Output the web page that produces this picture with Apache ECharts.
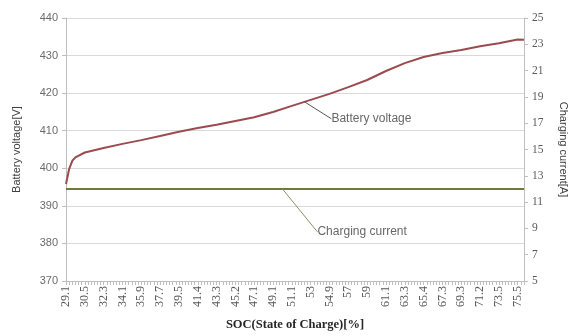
<!DOCTYPE html>
<html>
<head>
<meta charset="utf-8">
<script src="https://cdn.jsdelivr.net/npm/echarts@6/dist/echarts.min.js"></script>
<style>html,body{margin:0;padding:0;background:#fff}#c{width:570px;height:336px}</style>
</head>
<body>
<div id="c"></div>
<script>
// Tick labels shown on the SOC axis (one every 6 categories)
var socLabels = ['29.1','30.5','32.3','34.1','35.9','37.7','39.5','41.4','43.3','45.2','47.1','49.1','51.1','53','54.9','57','59','61.1','63.3','65.4','67.3','69.3','71.2','73.5','75.5'];
var stepsPerLabel = 6;
var extraAfterLast = 2;
// Battery voltage [category index, V]
var voltage = [[0,395.8],[1,399.8],[2,402.0],[3,402.9],[6,404.2],[12,405.4],[18,406.5],[24,407.5],[30,408.6],[36,409.7],[42,410.7],[48,411.6],[54,412.6],[60,413.6],[66,415.0],[72,416.6],[78,418.2],[84,419.8],[90,421.6],[96,423.5],[102,425.9],[108,428.0],[114,429.6],[120,430.7],[126,431.5],[132,432.5],[138,433.3],[144,434.3],[146,434.2]];
// Charging current [A], constant
var currentValue = 12;
// Annotation anchors [category index, value]
var voltageNote = [76, 417.7];
var currentNote = [69, 12];

var nCat = (socLabels.length - 1) * stepsPerLabel + 1 + extraAfterLast;
var categories = [];
for (var i = 0; i < nCat; i++) {
  categories.push(i % stepsPerLabel === 0 && i / stepsPerLabel < socLabels.length ? socLabels[i / stepsPerLabel] : '');
}
var currentData = [[0, currentValue], [nCat - 1, currentValue]];

var chart = echarts.init(document.getElementById('c'));
chart.setOption({
  animation: false,
  grid: {left: 66, right: 46, top: 18, bottom: 55, containLabel: false, outerBoundsMode: 'none'},
  xAxis: {
    type: 'category', data: categories, boundaryGap: false,
    name: 'SOC(State of Charge)[%]', nameLocation: 'middle', nameGap: 37,
    nameTextStyle: {fontFamily: 'Liberation Serif', fontWeight: 'bold', fontSize: 12.5, color: '#262626'},
    axisLine: {lineStyle: {color: '#bfbfbf'}},
    axisTick: {show: true, interval: 0, length: 4, lineStyle: {color: '#bfbfbf'}},
    axisLabel: {interval: stepsPerLabel - 1, rotate: 90, fontFamily: 'Liberation Serif', fontSize: 12, color: '#595959', margin: 5},
    splitLine: {show: false}
  },
  yAxis: [{
    type: 'value', min: 370, max: 440, interval: 10,
    name: 'Battery voltage[V]', nameLocation: 'middle', nameGap: 44,
    nameTextStyle: {fontFamily: 'Liberation Sans', fontSize: 11, color: '#404040'},
    axisLine: {show: true, lineStyle: {color: '#bfbfbf'}},
    axisTick: {show: true, length: 4, lineStyle: {color: '#bfbfbf'}},
    axisLabel: {fontFamily: 'Liberation Sans', fontSize: 11, color: '#6b6b6b', margin: 8},
    splitLine: {lineStyle: {color: '#d9d9d9'}}
  }, {
    type: 'value', min: 5, max: 25, interval: 2, position: 'right',
    name: 'Charging current[A]', nameLocation: 'middle', nameGap: 34, nameRotate: -90,
    nameTextStyle: {fontFamily: 'Liberation Sans', fontSize: 11, color: '#404040'},
    axisLine: {show: true, lineStyle: {color: '#bfbfbf'}},
    axisTick: {show: true, length: 4, lineStyle: {color: '#bfbfbf'}},
    axisLabel: {fontFamily: 'Liberation Serif', fontSize: 11.5, color: '#595959', margin: 8},
    splitLine: {show: false}
  }],
  series: [{
    type: 'line', yAxisIndex: 0, data: voltage, showSymbol: false,
    lineStyle: {color: '#9b4b4f', width: 2}, z: 3
  }, {
    type: 'line', yAxisIndex: 1, data: currentData, showSymbol: false,
    lineStyle: {color: '#6f7a35', width: 2}, z: 2
  }, {
    type: 'scatter', yAxisIndex: 0, data: [voltageNote], symbolSize: 0,
    label: {show: true, formatter: 'Battery voltage', position: 'right', fontFamily: 'Liberation Sans', fontSize: 12, color: '#404040'},
    labelLayout: {dx: 22, dy: 17},
    labelLine: {show: true, lineStyle: {color: '#5e5050', width: 1}}, z: 4
  }, {
    type: 'scatter', yAxisIndex: 1, data: [currentNote], symbolSize: 0,
    label: {show: true, formatter: 'Charging current', position: 'right', fontFamily: 'Liberation Sans', fontSize: 12, color: '#404040'},
    labelLayout: {dx: 30, dy: 43},
    labelLine: {show: true, lineStyle: {color: '#8a8e68', width: 1}}, z: 4
  }]
});
</script>
</body>
</html>
